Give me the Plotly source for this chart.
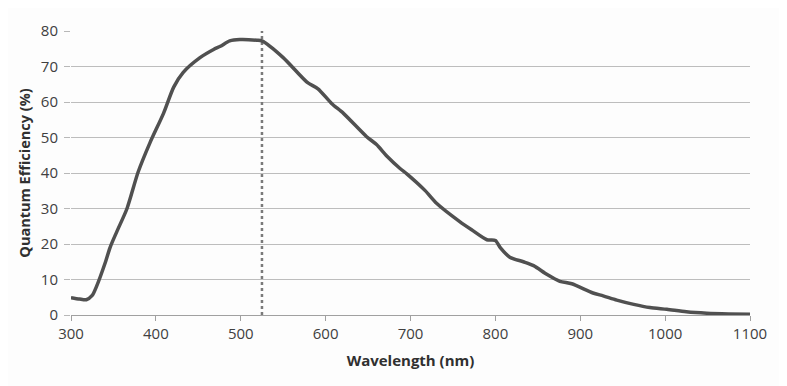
import plotly.graph_objects as go

wavelength = [300, 310, 318, 325, 330, 340, 346, 354, 366, 379, 393, 409, 421, 432, 452, 468, 476,
              487, 499, 519, 525, 550, 578, 591, 607, 621, 648, 660, 672, 688, 696, 717, 731,
              758, 772, 790, 800, 806, 817, 833, 845, 861, 876, 890, 915, 927, 943, 963, 982,
              1002, 1025, 1049, 1075, 1100]
qe = [4.9, 4.5, 4.3, 5.5, 8.0, 14.5, 19.0, 23.5, 30.0, 40.2, 48.5, 56.8, 64.2, 68.3, 72.5, 74.8, 75.7,
      77.2, 77.6, 77.4, 77.2, 72.5, 65.6, 63.7, 59.6, 56.8, 50.3, 48.0, 44.8, 41.2, 39.7, 35.1, 31.4,
      26.3, 24.0, 21.2, 21.0, 18.9, 16.3, 15.0, 13.9, 11.4, 9.5, 8.8, 6.2, 5.4, 4.2, 3.0, 2.1,
      1.6, 0.9, 0.5, 0.3, 0.2]

marker_wavelength = [525, 525]
marker_qe = [0, 80]

x_ticks = [300, 400, 500, 600, 700, 800, 900, 1000, 1100]
y_ticks = [0, 10, 20, 30, 40, 50, 60, 70, 80]

fig = go.Figure()
fig.add_trace(go.Scatter(x=marker_wavelength, y=marker_qe, mode="lines",
                         line=dict(color="#7a7a7a", width=2.5, dash="dot"),
                         hoverinfo="skip", showlegend=False))
fig.add_trace(go.Scatter(x=wavelength, y=qe, mode="lines",
                         line=dict(color="#505050", width=3.5, shape="spline", smoothing=0.7),
                         showlegend=False))

font_family = "Open Sans, DejaVu Sans, sans-serif"
fig.update_layout(
    width=779, height=378,
    margin=dict(l=63, r=37, t=18, b=71),
    paper_bgcolor="#fdfdfd", plot_bgcolor="#fdfdfd",
    font=dict(family=font_family, color="#404040", size=15),
    xaxis=dict(range=[300, 1100], tickvals=x_ticks, ticks="outside", ticklen=5,
               tickcolor="#a0a0a0", showgrid=False, zeroline=False,
               showline=True, linecolor="#a0a0a0", linewidth=1,
               tickfont=dict(size=15, color="#404040"), ticklabelstandoff=0,
               title=dict(text="<b>Wavelength (nm)</b>", font=dict(size=15, color="#303030"),
                          standoff=13)),
    yaxis=dict(range=[0, 80], tickvals=y_ticks, ticks="outside", ticklen=6,
               tickcolor="#b8b8b8", showgrid=True, gridcolor="#bdbdbd", gridwidth=1,
               zeroline=False, showline=False,
               tickfont=dict(size=15, color="#404040"), ticklabelstandoff=3,
               title=dict(text="<b>Quantum Efficiency (%)</b>", font=dict(size=14.5, color="#303030"),
                          standoff=6)),
)

fig.write_html("out.html")
